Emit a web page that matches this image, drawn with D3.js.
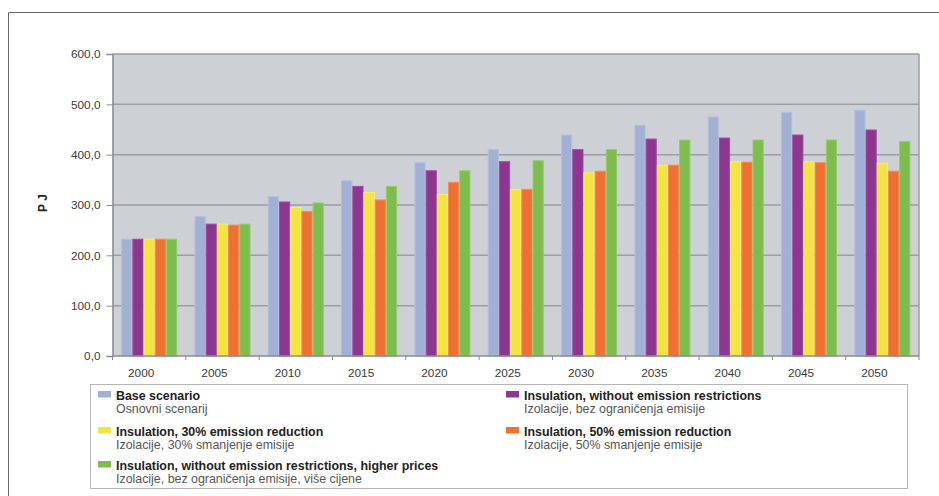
<!DOCTYPE html>
<html>
<head>
<meta charset="utf-8">
<script src="https://cdn.jsdelivr.net/npm/d3@7"></script>
<style>
  html, body { margin: 0; padding: 0; background: #ffffff; }
  svg { display: block; font-family: "Liberation Sans", Arial, sans-serif; }
</style>
</head>
<body>
<svg id="chart" width="939" height="496"></svg>
<script>
const years = ["2000","2005","2010","2015","2020","2025","2030","2035","2040","2045","2050"];
const baseScenario      = [233, 278, 318, 349, 385, 411, 440, 459, 476, 485, 489];
const insulNoRestr      = [233, 263, 307, 338, 369, 387, 411, 432, 434, 440, 450];
const insul30           = [233, 263, 296, 326, 322, 332, 365, 380, 387, 387, 384];
const insul50           = [233, 261, 288, 311, 346, 332, 368, 380, 386, 385, 368];
const insulHigherPrices = [233, 263, 305, 338, 369, 389, 411, 430, 430, 430, 427];
const yTicks = [0, 100, 200, 300, 400, 500, 600];

const seriesNames = [
  ["Base scenario", "Osnovni scenarij"],
  ["Insulation, without emission restrictions", "Izolacije, bez ograničenja emisije"],
  ["Insulation, 30% emission reduction", "Izolacije, 30% smanjenje emisije"],
  ["Insulation, 50% emission reduction", "Izolacije, 50% smanjenje emisije"],
  ["Insulation, without emission restrictions, higher prices", "Izolacije, bez ograničenja emisije, više cijene"]
];
const seriesValues = [baseScenario, insulNoRestr, insul30, insul50, insulHigherPrices];
const colors = ["#a3b0d6", "#8c3690", "#f3e443", "#ee7131", "#7dbc4d"];
const strokes = ["#b3bfe0", "#a04ca5", "#f7ec74", "#f38a55", "#96cb6c"];

const svg = d3.select("#chart");

// outer frame (top + left)
svg.append("path").attr("d", "M8.5,496 V12.5 H939")
  .attr("fill", "none").attr("stroke", "#6a6a6a").attr("stroke-width", 1);

const plot = {left: 112.5, right: 919, top: 54, bottom: 356};

const y = d3.scaleLinear().domain([0, 600]).range([plot.bottom, plot.top]);
const x0 = d3.scaleBand().domain(years).range([plot.left, plot.right])
  .paddingInner(0.236).paddingOuter(0.118);
const x1 = d3.scaleBand().domain(d3.range(5)).range([0, x0.bandwidth()]);
const xEdge = d3.scaleBand().domain(years).range([plot.left, plot.right]);

// plot background
svg.append("rect").attr("x", plot.left).attr("y", plot.top)
  .attr("width", plot.right - plot.left).attr("height", plot.bottom - plot.top)
  .attr("fill", "#cdd0d4");

// gridlines
svg.append("g").selectAll("line").data(yTicks.filter(d => d > 0)).join("line")
  .attr("x1", plot.left).attr("x2", plot.right)
  .attr("y1", d => y(d)).attr("y2", d => y(d))
  .attr("stroke", "#9c9ea1").attr("stroke-width", 1.5);

// right border of plot
svg.append("line").attr("x1", plot.right).attr("x2", plot.right)
  .attr("y1", plot.top).attr("y2", plot.bottom)
  .attr("stroke", "#9c9ea1").attr("stroke-width", 1.5);

// bars
const groups = svg.append("g").selectAll("g").data(years).join("g")
  .attr("transform", d => `translate(${x0(d)},0)`);
groups.selectAll("rect").data((d, i) => seriesValues.map((s, k) => ({k, v: s[i]}))).join("rect")
  .attr("x", d => x1(d.k) + 0.5)
  .attr("width", x1.bandwidth() - 1)
  .attr("y", d => y(d.v) + 0.5)
  .attr("height", d => y(0) - y(d.v) - 0.5)
  .attr("fill", d => colors[d.k])
  .attr("stroke", d => strokes[d.k]).attr("stroke-width", 1);

// y axis
const yAxis = d3.axisLeft(y).tickValues(yTicks).tickSize(6).tickPadding(6)
  .tickFormat(d => d3.format(".1f")(d).replace(".", ","));
const ya = svg.append("g").attr("transform", `translate(${plot.left},0)`).call(yAxis);
ya.select(".domain").attr("stroke", "#8a8c8f").attr("stroke-width", 1.5);
ya.selectAll(".tick line").attr("stroke", "#8a8c8f");
ya.selectAll(".tick text").attr("fill", "#3a3a3a").attr("font-size", 11.8)
  .attr("font-family", "Liberation Sans, Arial, sans-serif");

// x axis
const xAxisG = svg.append("g").attr("transform", `translate(0,${plot.bottom})`);
xAxisG.append("line").attr("x1", plot.left).attr("x2", plot.right)
  .attr("stroke", "#8a8c8f").attr("stroke-width", 1.5);
const edges = years.map(d => xEdge(d)).concat([plot.right]);
xAxisG.selectAll("line.tk").data(edges).join("line").attr("class", "tk")
  .attr("x1", d => d).attr("x2", d => d).attr("y1", 0).attr("y2", 4)
  .attr("stroke", "#8a8c8f");
xAxisG.selectAll("text").data(years).join("text")
  .attr("x", d => x0(d) + x0.bandwidth() / 2 - 8)
  .attr("y", 21).attr("text-anchor", "middle")
  .attr("font-size", 11.8).attr("fill", "#3a3a3a")
  .text(d => d);

// y axis title
svg.append("text").attr("transform", "translate(47,203) rotate(-90)")
  .attr("text-anchor", "middle").attr("font-size", 12).attr("font-weight", "bold")
  .attr("fill", "#222").text("P J");

// legend
svg.append("rect").attr("x", 90.5).attr("y", 384.5).attr("width", 817).attr("height", 104)
  .attr("fill", "#ffffff").attr("stroke", "#b5b5b5").attr("stroke-width", 1);
const legPos = [
  {x: 98, y: 391}, {x: 506, y: 391},
  {x: 98, y: 427}, {x: 506, y: 427},
  {x: 98, y: 461}
];
const leg = svg.append("g").selectAll("g").data(seriesNames).join("g")
  .attr("transform", (d, i) => `translate(${legPos[i].x},${legPos[i].y})`);
leg.append("rect").attr("x", 0).attr("y", 0).attr("width", 13).attr("height", 6.5)
  .attr("fill", (d, i) => colors[i]);
leg.append("text").attr("x", 18).attr("y", 8.8)
  .attr("font-size", 12.4).attr("font-weight", "bold").attr("fill", "#222")
  .text(d => d[0]);
leg.append("text").attr("x", 18).attr("y", 22)
  .attr("font-size", 12.4).attr("fill", "#555")
  .text(d => d[1]);
</script>
</body>
</html>
